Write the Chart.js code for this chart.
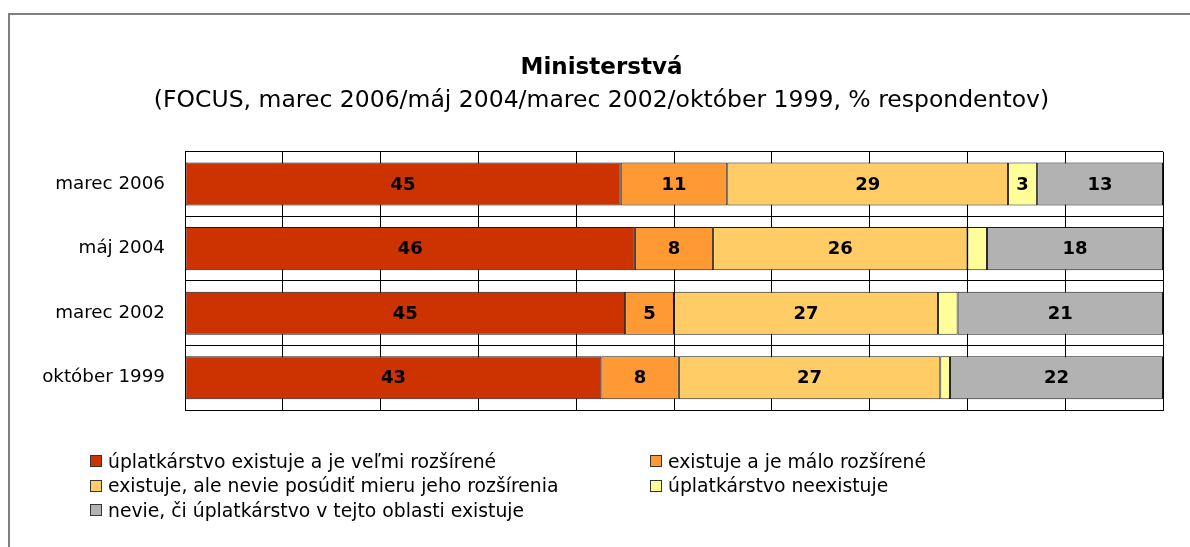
<!DOCTYPE html>
<html>
<head>
<meta charset="utf-8">
<title>Ministerstvá</title>
<script src="https://cdn.jsdelivr.net/npm/chart.js@4.4.1/dist/chart.umd.min.js"></script>
<style>
    html, body { margin: 0; padding: 0; background: #fff; }
    #obal { position: relative; width: 1190px; height: 547px; overflow: hidden; font-family: "DejaVu Sans", sans-serif; }
    #ramik { position: absolute; left: 8px; top: 13px; width: 1190px; height: 600px; border: 2px solid #7f7f7f; box-sizing: border-box; }
    #graf { position: absolute; left: 0; top: 0; }
    #legenda { position: absolute; left: 90px; top: 449px; display: grid; grid-template-columns: 560px auto; grid-auto-rows: 24.5px; font-size: 18.8px; color: #000; }
    .polozka { display: flex; align-items: center; white-space: nowrap; }
    .stvorec { width: 10px; height: 10px; border: 1px solid #333; margin-right: 6px; flex: none; }
</style>
</head>
<body>
<div id="obal">
    <div id="ramik"></div>
    <canvas id="graf" width="1190" height="547"></canvas>
    <div id="legenda"></div>
</div>
<script>
    // kategorie (obdobia prieskumu)
    var kategorie = ["marec 2006", "máj 2004", "marec 2002", "október 1999"];
    // hodnoty v % respondentov
    var velmiRozsirene = [45, 46, 45, 43];
    var maloRozsirene = [11, 8, 5, 8];
    var nevieMieru = [29, 26, 27, 27];
    var neexistuje = [3, 2, 2, 1];
    var nevieCi = [13, 18, 21, 22];

    var nazvySerii = [
        "úplatkárstvo existuje a je veľmi rozšírené",
        "existuje a je málo rozšírené",
        "existuje, ale nevie posúdiť mieru jeho rozšírenia",
        "úplatkárstvo neexistuje",
        "nevie, či úplatkárstvo v tejto oblasti existuje"
    ];
    var farby = ["#cc3300", "#ff9933", "#ffcc66", "#ffff99", "#b2b2b2"];

    var titulok = "Ministerstvá";
    var podtitulok = "(FOCUS, marec 2006/máj 2004/marec 2002/október 1999, % respondentov)";

    var pismo = "'DejaVu Sans', sans-serif";

    var serie = [velmiRozsirene, maloRozsirene, nevieMieru, neexistuje, nevieCi];

    // sucty za kazde obdobie (graf je 100% skladany)
    var sucty = kategorie.map(function (k, j) {
        return serie.reduce(function (s, arr) { return s + arr[j]; }, 0);
    });

    var datasety = serie.map(function (arr, i) {
        return {
            label: nazvySerii[i],
            data: arr.map(function (v, j) { return v / sucty[j] * 100; }),
            hodnoty: arr,
            backgroundColor: farby[i],
            borderColor: "#1a1a1a",
            borderWidth: 1,
            borderSkipped: false,
            categoryPercentage: 1,
            barPercentage: 0.667
        };
    });

    // popisky hodnot v strede stlpcov
    var stitkyPlugin = {
        id: "stitky",
        afterDatasetsDraw: function (chart) {
            var ctx = chart.ctx;
            ctx.save();
            ctx.font = "bold 18px " + pismo;
            ctx.fillStyle = "#000";
            ctx.textAlign = "center";
            ctx.textBaseline = "middle";
            chart.data.datasets.forEach(function (ds, i) {
                var meta = chart.getDatasetMeta(i);
                meta.data.forEach(function (bar, j) {
                    var v = ds.hodnoty[j];
                    if (v < 3) return;
                    var p = bar.getCenterPoint();
                    ctx.fillText(String(v), p.x, p.y + 1);
                });
            });
            ctx.restore();
        }
    };

    Chart.defaults.font.family = pismo;
    Chart.defaults.color = "#000";

    var ctx = document.getElementById("graf").getContext("2d");
    new Chart(ctx, {
        type: "bar",
        data: { labels: kategorie, datasets: datasety },
        plugins: [stitkyPlugin],
        options: {
            indexAxis: "y",
            responsive: false,
            animation: false,
            layout: { padding: { left: 40, right: 27, top: 0, bottom: 137 } },
            scales: {
                x: {
                    stacked: true,
                    min: 0,
                    max: 100,
                    ticks: { display: false, stepSize: 10 },
                    grid: { color: "#000", drawTicks: false, lineWidth: 1 },
                    border: { color: "#000" },
                    afterFit: function (s) { s.height = 0; }
                },
                y: {
                    stacked: true,
                    ticks: { color: "#000", font: { size: 18.3 }, padding: 20 },
                    grid: { color: "#000", drawTicks: false, offset: true, lineWidth: 1 },
                    border: { color: "#000" },
                    afterFit: function (s) { s.width = 145; }
                }
            },
            plugins: {
                legend: { display: false },
                tooltip: { enabled: false },
                title: {
                    display: true,
                    text: titulok,
                    color: "#000",
                    font: { size: 23, weight: "bold" },
                    padding: { top: 54, bottom: 5 }
                },
                subtitle: {
                    display: true,
                    text: podtitulok,
                    color: "#000",
                    font: { size: 23.5, weight: "normal" },
                    padding: { top: 0, bottom: 37 }
                }
            }
        }
    });

    // legenda v dvoch stlpcoch
    var legenda = document.getElementById("legenda");
    nazvySerii.forEach(function (n, i) {
        var el = document.createElement("div");
        el.className = "polozka";
        var sq = document.createElement("span");
        sq.className = "stvorec";
        sq.style.background = farby[i];
        var tx = document.createElement("span");
        tx.textContent = n;
        el.appendChild(sq);
        el.appendChild(tx);
        legenda.appendChild(el);
    });
</script>
</body>
</html>
